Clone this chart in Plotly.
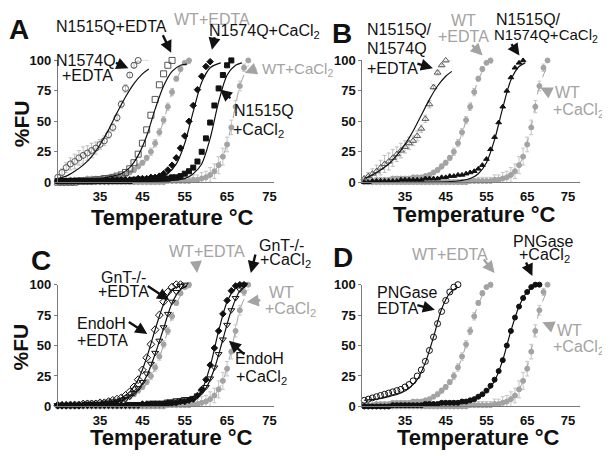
import plotly.graph_objects as go

# The page body has an 8px margin, so the figure is drawn 8px smaller and all
# layout positions below are given in page pixels and converted.
PAGE_W, PAGE_H = 610, 456
OFF = 8
W, H = PAGE_W - OFF, PAGE_H - OFF
FONT = "Liberation Sans, Arial, sans-serif"
K = "#111111"
G = "#a3a3a3"
DG = "#555555"
EB = "#bdbdbd"

# ---------------- data (temperature in °C, %FU) ----------------
T_ALL = [25, 26, 27, 28, 29, 30, 31, 32, 33, 34, 35, 36, 37, 38, 39, 40, 41, 42, 43, 44, 45, 46, 47,
         48, 49, 50, 51, 52, 53, 54, 55, 56, 57, 58, 59, 60, 61, 62, 63, 64, 65, 66, 67, 68, 69, 70]

# wild type (shown in grey in every panel)
WT_EDTA = [1, 1, 1, 2, 2, 2, 2, 3, 3, 3, 3, 3, 4, 4, 4, 5,
           6, 8, 10, 13, 16, 20, 25, 32, 41, 51, 62, 74, 85, 93, 98, 100]
WT_EDTA_ERR = [1, 1, 1, 1, 1, 1, 1, 1, 1, 1, 1, 1, 1, 1, 1, 1,
               1, 1, 2, 2, 2, 2, 3, 3, 3, 3, 3, 3, 2, 2, 1, 1]
WT_EDTA_FIT_T = [25, 35, 40, 43, 45, 47, 49, 51, 53, 55, 56.5]
WT_EDTA_FIT = [1, 3, 5, 9, 14, 24, 40, 62, 84, 96, 98]

WT_CA = [0, 0, 0, 0, 0, 0, 0, 0, 0, 0, 0, 0, 0, 0, 0, 0, 0, 0, 0, 0, 0, 0, 0, 0, 0, 0, 1, 1, 1, 1,
         1, 1, 2, 2, 3, 4, 6, 9, 14, 21, 31, 45, 62, 79, 94, 100]
WT_CA_ERR = [2, 2, 2, 2, 2, 2, 2, 2, 2, 2, 2, 2, 2, 2, 2, 2, 2, 2, 2, 2, 2, 2, 2, 2, 2, 2, 2, 2, 3, 3,
             3, 3, 4, 4, 5, 5, 6, 6, 7, 7, 6, 6, 5, 4, 3, 1]
WT_CA_FIT_T = [25, 45, 55, 58, 60, 62, 64, 66, 68, 70]
WT_CA_FIT = [0, 0, 1, 2, 4, 9, 21, 46, 79, 96]

# panel A
A_N1574Q_EDTA = [4, 8, 12, 15, 17, 20, 22, 24, 26, 28, 31, 34, 39, 45, 53, 64, 77, 88, 96, 100, 101, 101]
A_N1574Q_EDTA_ERR = [2, 3, 4, 5, 6, 6, 7, 6, 6, 5, 4, 4, 3, 3, 3, 3, 3, 2, 2, 1, 1, 1]
A_N1574Q_EDTA_FIT_T = [25, 27, 29, 31, 33, 35, 37, 39, 41, 43, 45, 46.5]
A_N1574Q_EDTA_FIT = [3, 5, 9, 14, 21, 31, 43, 57, 70, 81, 89, 93]

A_N1515Q_EDTA = [0, 0, 0, 0, 0, 1, 1, 1, 1, 2, 2, 3, 3, 4, 5,
                 6, 8, 11, 16, 23, 32, 43, 55, 68, 80, 89, 96, 100, 101, 101]
A_N1515Q_EDTA_FIT_T = [25, 30, 35, 38, 40, 42, 44, 46, 48, 50, 52, 54, 55.5]
A_N1515Q_EDTA_FIT = [1, 2, 3, 5, 7, 12, 22, 38, 60, 79, 91, 96, 97]

A_N1574Q_CA = [1, 1, 1, 1, 1, 1, 1, 1, 1, 1, 1, 1, 1, 2, 2, 2, 2, 2, 2, 3, 3, 3, 4, 4, 5,
               7, 10, 14, 20, 28, 38, 50, 63, 76, 87, 95, 99, 101, 101]
A_N1574Q_CA_FIT_T = [25, 35, 45, 49, 51, 53, 55, 57, 59, 61, 63.5]
A_N1574Q_CA_FIT = [0, 0, 1, 3, 7, 15, 32, 58, 82, 94, 98]

A_N1515Q_CA = [1, 1, 1, 1, 1, 1, 1, 1, 1, 1, 1, 1, 1, 1, 1, 1, 1, 1, 2, 2, 2, 2, 2, 3, 3, 3, 3, 4, 4,
               5, 7, 9, 12, 17, 25, 36, 49, 63, 77, 88, 96, 100, 101]
A_N1515Q_CA_FIT_T = [25, 40, 50, 55, 57, 59, 61, 63, 65, 67, 68.5]
A_N1515Q_CA_FIT = [0, 0, 1, 3, 7, 15, 36, 66, 88, 96, 98]

# panel B (double mutant N1515Q/N1574Q)
B_DM_EDTA = [3, 5, 7, 9, 12, 15, 17, 20, 23, 26, 29, 32, 34, 38, 44, 52, 64, 78, 90, 96, 100, 101]
B_DM_EDTA_ERR = [2, 3, 4, 5, 6, 7, 7, 7, 6, 6, 5, 5, 4, 4, 3, 3, 3, 2, 2, 1, 1, 1]
B_DM_EDTA_FIT_T = [25, 27, 29, 31, 33, 35, 37, 39, 41, 43, 45, 46.5]
B_DM_EDTA_FIT = [3, 6, 10, 15, 22, 31, 42, 55, 68, 79, 87, 91]

B_DM_CA = [0, 0, 1, 1, 1, 1, 1, 1, 1, 2, 2, 2, 2, 2, 2, 3, 3, 3, 3, 4,
           4, 5, 5, 6, 6, 7, 8, 9, 11, 14, 19, 27, 37, 49, 62, 75, 86, 94, 98, 100]
B_DM_CA_FIT_T = [25, 40, 48, 51, 53, 55, 57, 59, 61, 63, 64.5]
B_DM_CA_FIT = [0, 0, 1, 3, 7, 16, 35, 61, 84, 95, 98]

# panel C
C_GNT_EDTA = [1, 1, 1, 1, 1, 1, 2, 2, 2, 2, 3, 3, 4, 5, 6, 7,
              9, 12, 16, 22, 30, 40, 51, 63, 75, 86, 94, 98, 100, 100]
C_GNT_EDTA_FIT_T = [25, 35, 38, 40, 42, 44, 46, 48, 50, 52, 54]
C_GNT_EDTA_FIT = [0, 2, 4, 7, 12, 22, 40, 63, 84, 96, 99]

C_ENDO_EDTA = [1, 1, 1, 1, 1, 1, 1, 2, 2, 2, 2, 3, 3, 4, 4, 5, 6,
               8, 11, 15, 20, 27, 35, 44, 54, 65, 76, 86, 94, 99, 100]
C_ENDO_EDTA_FIT_T = [25, 35, 40, 42, 44, 46, 48, 50, 52, 54, 55.5]
C_ENDO_EDTA_FIT = [0, 2, 5, 8, 14, 25, 43, 64, 85, 96, 99]

C_GNT_CA = [1, 1, 1, 1, 1, 1, 1, 1, 1, 1, 1, 1, 1, 1, 1, 1, 1, 1, 1, 1, 2, 2, 2, 2, 2, 2, 3, 3, 3, 4,
            4, 5, 6, 9, 14, 22, 34, 48, 62, 76, 87, 95, 99, 100, 100]
C_GNT_CA_FIT_T = [25, 45, 52, 55, 57, 59, 61, 63, 65, 67, 69]
C_GNT_CA_FIT = [0, 0, 1, 3, 5, 13, 33, 62, 86, 97, 100]

C_ENDO_CA = [1, 1, 1, 1, 1, 1, 1, 1, 1, 1, 1, 1, 1, 1, 1, 1, 1, 2, 2, 2, 2, 2, 3, 3, 3, 3, 4, 4, 5, 5, 6,
             6, 7, 9, 12, 16, 23, 32, 43, 55, 67, 79, 89, 96, 100]
C_ENDO_CA_FIT_T = [25, 45, 52, 55, 58, 60, 62, 64, 66, 68, 69.5]
C_ENDO_CA_FIT = [0, 1, 2, 4, 8, 15, 31, 55, 79, 95, 99]

# panel D
D_PNG_EDTA = [5, 6, 7, 8, 9, 10, 11, 12, 13, 14, 16, 18, 21, 25, 30, 37, 46, 57, 68, 78, 87, 94, 98, 100, 101]
D_PNG_EDTA_FIT_T = [25, 28, 31, 34, 36, 38, 40, 42, 44, 46, 48]
D_PNG_EDTA_FIT = [5, 6, 8, 11, 15, 22, 36, 57, 80, 93, 98]

D_PNG_CA = [0, 0, 0, 0, 0, 0, 0, 1, 1, 1, 1, 1, 1, 1, 1, 2, 2, 2, 2, 3, 3, 3, 3, 3, 4,
            4, 5, 6, 8, 10, 13, 17, 22, 29, 38, 50, 62, 73, 82, 89, 94, 98, 100, 100]
D_PNG_CA_FIT_T = [25, 40, 48, 52, 55, 57, 59, 61, 63, 65, 67, 68]
D_PNG_CA_FIT = [0, 1, 3, 6, 12, 21, 38, 62, 82, 94, 99, 100]

X_TICKS = [35, 45, 55, 65, 75]
Y_TICKS = [0, 25, 50, 75, 100]

# ---------------- figure ----------------
fig = go.Figure()
AX = {"A": ("x", "y"), "B": ("x2", "y2"), "C": ("x3", "y3"), "D": ("x4", "y4")}


def points(panel, vals, symbol, color, err=None, errcolor=EB, size=5, lw=1):
    xa, ya = AX[panel]
    fig.add_trace(go.Scatter(
        x=T_ALL[:len(vals)], y=vals, mode="markers", xaxis=xa, yaxis=ya,
        marker=dict(symbol=symbol, size=size, color=color, line=dict(color=color, width=lw)),
        error_y=dict(type="data", array=err, visible=err is not None, color=errcolor,
                     thickness=1, width=2),
        cliponaxis=False, showlegend=False, hoverinfo="x+y"))


def fit(panel, t, v, color=K, dash="solid", width=1.2):
    xa, ya = AX[panel]
    fig.add_trace(go.Scatter(
        x=t, y=v, mode="lines", xaxis=xa, yaxis=ya,
        line=dict(color=color, width=width, dash=dash, shape="spline", smoothing=0.8),
        showlegend=False, hoverinfo="skip"))


def wt(panel):
    points(panel, WT_CA, "circle", G, err=WT_CA_ERR, errcolor="#c4c4c4")
    fit(panel, WT_CA_FIT_T, WT_CA_FIT, G, "dash", 1)
    points(panel, WT_EDTA, "circle", G, err=WT_EDTA_ERR, errcolor="#c4c4c4")
    fit(panel, WT_EDTA_FIT_T, WT_EDTA_FIT, G, "dash", 1)


# Panel A
wt("A")
points("A", A_N1574Q_EDTA, "circle-open", DG, err=A_N1574Q_EDTA_ERR, size=6)
fit("A", A_N1574Q_EDTA_FIT_T, A_N1574Q_EDTA_FIT)
points("A", A_N1515Q_EDTA, "square-open", DG, size=6)
fit("A", A_N1515Q_EDTA_FIT_T, A_N1515Q_EDTA_FIT)
points("A", A_N1574Q_CA, "diamond", K)
fit("A", A_N1574Q_CA_FIT_T, A_N1574Q_CA_FIT)
points("A", A_N1515Q_CA, "square", K)
fit("A", A_N1515Q_CA_FIT_T, A_N1515Q_CA_FIT)

# Panel B
wt("B")
points("B", B_DM_EDTA, "triangle-up-open", DG, err=B_DM_EDTA_ERR, size=6)
fit("B", B_DM_EDTA_FIT_T, B_DM_EDTA_FIT)
points("B", B_DM_CA, "triangle-up", K)
fit("B", B_DM_CA_FIT_T, B_DM_CA_FIT)

# Panel C
wt("C")
points("C", C_GNT_EDTA, "diamond-open", K, size=6)
fit("C", C_GNT_EDTA_FIT_T, C_GNT_EDTA_FIT)
points("C", C_ENDO_EDTA, "triangle-down-open", K, size=6)
fit("C", C_ENDO_EDTA_FIT_T, C_ENDO_EDTA_FIT)
points("C", C_GNT_CA, "diamond", K)
fit("C", C_GNT_CA_FIT_T, C_GNT_CA_FIT)
points("C", C_ENDO_CA, "triangle-down-open", K, size=6)
fit("C", C_ENDO_CA_FIT_T, C_ENDO_CA_FIT)

# Panel D
wt("D")
points("D", D_PNG_EDTA, "circle-open", K, size=6)
fit("D", D_PNG_EDTA_FIT_T, D_PNG_EDTA_FIT)
points("D", D_PNG_CA, "circle", K)
fit("D", D_PNG_CA_FIT_T, D_PNG_CA_FIT)


# ---------------- axes ----------------
def px(x):
    return (x - OFF) / W


def py(y):
    return 1 - (y - OFF) / H


LAYOUT = {
    "": ([58, 275], [181, 55], [25, 76]),
    "2": ([364, 583], [181, 55], [24.5, 78]),
    "3": ([58, 275], [413, 287], [25, 76]),
    "4": ([364, 583], [413, 287], [24.5, 78]),
}
axes = {}
for s, (xd, yd, xr) in LAYOUT.items():
    axes["xaxis" + s] = dict(
        domain=[px(xd[0]), px(xd[1])], range=xr, anchor="y" + s,
        showline=True, linecolor="#7a7a7a", linewidth=1, showgrid=False, zeroline=False,
        tickvals=X_TICKS, ticks="", ticklabelstandoff=2,
        tickfont=dict(family=FONT, size=13, color=K, weight="bold"))
    axes["yaxis" + s] = dict(
        domain=[py(yd[0]), py(yd[1])], range=[0, 100], anchor="x" + s,
        showline=True, linecolor="#7a7a7a", linewidth=1, showgrid=False, zeroline=False,
        tickvals=Y_TICKS, ticks="outside", ticklen=3, tickcolor="#7a7a7a",
        tickfont=dict(family=FONT, size=13, color=K, weight="bold"))

ann = []


def text(t, x, y, color=K, anchor="center", size=16, bold=False, angle=0):
    ann.append(dict(text=t, x=px(x), y=py(y), xref="paper", yref="paper",
                    xanchor=anchor, yanchor="middle", showarrow=False, textangle=angle,
                    font=dict(family=FONT, size=size, color=color,
                              weight="bold" if bold else "normal")))


def arrow(x0, y0, x1, y1, color=K):
    ann.append(dict(text="", x=px(x1), y=py(y1), xref="paper", yref="paper",
                    ax=x0 - x1, ay=y0 - y1, axref="pixel", ayref="pixel",
                    showarrow=True, arrowhead=2, arrowsize=1.0, arrowwidth=2.4,
                    arrowcolor=color, standoff=0))


# panel letters
for L, x, y in [("A", 19, 23), ("B", 344, 27), ("C", 41, 262), ("D", 345, 259)]:
    text(L, x, y, size=28, bold=True)

# axis titles
for x, y in [(173, 217), (477, 214), (172, 445), (481, 445)]:
    text("Temperature °C", x, y, size=22, bold=True)
for x, y in [(21, 120), (21, 351)]:
    text("%FU", x, y, size=21, bold=True, angle=-90)

CA = "+CaCl<sub>2</sub>"
# panel A labels
text("N1515Q+EDTA", 112, 20)
text("WT+EDTA", 213, 13, G)
text("N1574Q" + CA, 208, 25, anchor="left")
text("N1574Q", 86, 55)
text("+EDTA", 88, 71)
text("WT" + CA, 261, 64, G, anchor="left", size=15)
text("N1515Q", 265, 107)
text(CA, 260, 127)
arrow(163, 28, 172, 47)
arrow(216, 30, 213, 44)
arrow(115, 57, 129, 63)
arrow(259, 63, 246, 68, G)
arrow(233, 95, 221, 85)

# panel B labels
text("N1515Q/", 367, 23, anchor="left")
text("N1574Q", 367, 43, anchor="left")
text("+EDTA", 367, 63, anchor="left")
text("WT", 466, 14, G)
text("+EDTA", 466, 30, G)
text("N1515Q/", 496, 13, anchor="left")
text("N1574Q" + CA, 494, 29, anchor="left", size=15)
text("WT", 556, 88, G, anchor="left")
text(CA, 554, 107, G, anchor="left")
arrow(418, 58, 435, 63)
arrow(473, 38, 485, 50, G)
arrow(513, 37, 522, 50)
arrow(553, 88, 543, 83, G)

# panel C labels
text("WT+EDTA", 208, 253, G)
text("GnT-/-", 124, 280)
text("+EDTA", 124, 294)
text("EndoH", 102, 327)
text("+EDTA", 103, 345)
text("GnT-/-", 258, 246, anchor="left")
text(CA, 259, 262, anchor="left")
text("WT", 268, 295, G, anchor="left")
text(CA, 264, 313, G, anchor="left")
text("EndoH", 261, 363)
text(CA, 263, 383)
arrow(147, 288, 170, 303)
arrow(128, 325, 148, 338)
arrow(197, 264, 198, 275, G)
arrow(257, 255, 252, 275)
arrow(263, 303, 248, 305, G)
arrow(247, 360, 230, 345)

# panel D labels
text("WT+EDTA", 452, 256, G)
text("PNGase", 546, 242)
text(CA, 547, 257)
text("PNGase", 377, 295, anchor="left")
text("EDTA", 377, 312, anchor="left")
text("WT", 558, 334, G, anchor="left")
text(CA, 554, 352, G, anchor="left")
arrow(418, 308, 437, 313)
arrow(485, 260, 497, 275, G)
arrow(528, 263, 535, 278)
arrow(557, 331, 545, 326, G)

fig.update_layout(
    width=W, height=H, autosize=False,
    margin=dict(l=0, r=0, t=0, b=0),
    paper_bgcolor="white", plot_bgcolor="white",
    font=dict(family=FONT, color=K),
    annotations=ann, showlegend=False,
    **axes)

fig.write_html("out.html")
